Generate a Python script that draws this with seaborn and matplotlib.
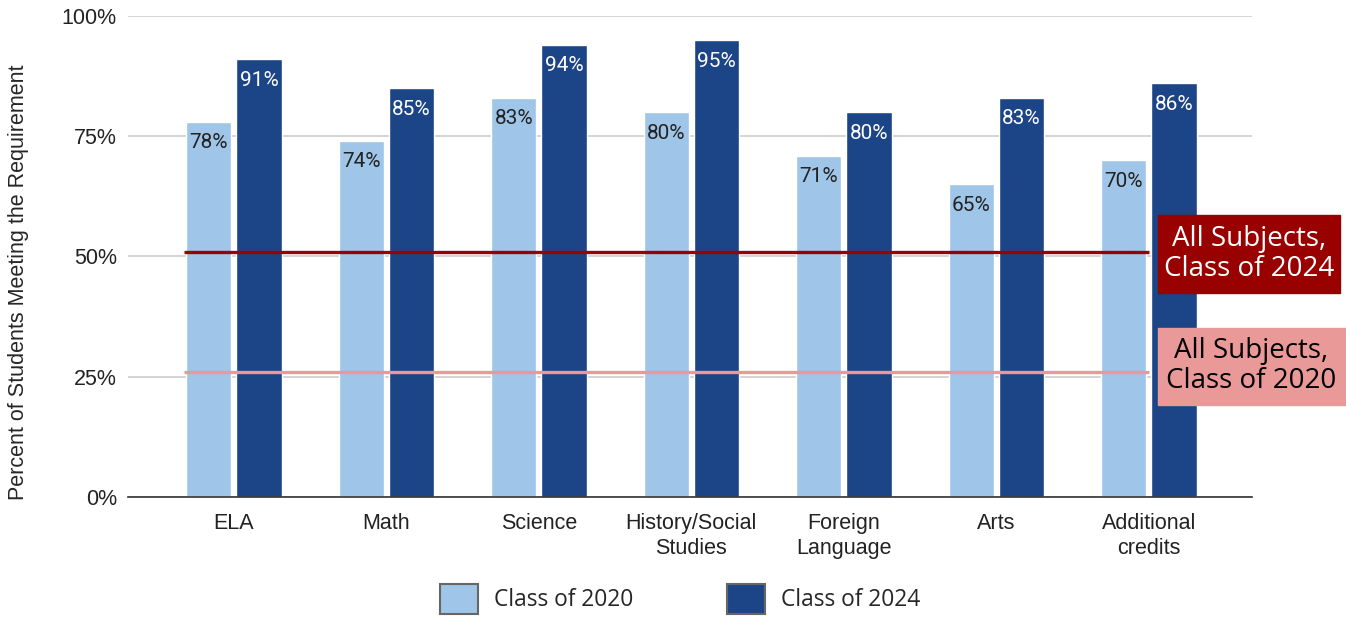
import matplotlib
matplotlib.use('Agg')
import seaborn as sns
import numpy as np
import pandas as pd
import matplotlib.pyplot as plt
from matplotlib.patches import Patch, Rectangle

subjects = ["ELA", "Math", "Science", "History/Social\nStudies", "Foreign\nLanguage", "Arts", "Additional\ncredits"]
class_2020 = [78, 74, 83, 80, 71, 65, 70]
class_2024 = [91, 85, 94, 95, 80, 83, 86]
cohorts = ["Class of 2020", "Class of 2024"]
all_subjects = {"Class of 2020": 26, "Class of 2024": 51}

light = "#9fc5e8"
dark = "#1c4587"
red_dark = "#990000"
red_light = "#ea9999"

df = pd.DataFrame({
    "subject": subjects * 2,
    "pct": class_2020 + class_2024,
    "cohort": [cohorts[0]] * len(subjects) + [cohorts[1]] * len(subjects),
})

sns.set_style("white")
plt.rcParams['font.family'] = ['Liberation Sans', 'DejaVu Sans']

fig = plt.figure(figsize=(13.46, 6.21), dpi=100)
ax = fig.add_axes([0.095, 0.2, 0.835, 0.774])

bar_w = 0.66
sns.barplot(data=df, x="subject", y="pct", hue="cohort", palette=[light, dark],
            width=bar_w, gap=0.1, saturation=1, legend=False, ax=ax, zorder=2)

# value labels inside the bars
for cont, txt_color in zip(ax.containers, ["#222222", "white"]):
    for p in cont:
        h = p.get_height()
        ax.annotate(f"{h:.0f}%", (p.get_x() + p.get_width() / 2, h),
                    xytext=(0, -15), textcoords="offset points",
                    ha="center", va="center", fontsize=15,
                    color=txt_color, family=["Roboto", "DejaVu Sans"], zorder=4)

# all-subject reference lines
ax.hlines(all_subjects["Class of 2024"], -bar_w / 2, len(subjects) - 1,
          color=red_dark, lw=2.4, zorder=3)
ax.hlines(all_subjects["Class of 2020"], -bar_w / 2, len(subjects) - 1,
          color=red_light, lw=2.4, zorder=3)

ax.set_xlim(-0.695, 6.675)
ax.set_ylim(0, 100)
ax.set_yticks([0, 25, 50, 75, 100])
ax.set_yticklabels([f"{v}%" for v in [0, 25, 50, 75, 100]])
ax.yaxis.grid(True, color="#cccccc", lw=1.2, zorder=0)
ax.set_axisbelow(True)
for s in ["top", "right", "left"]:
    ax.spines[s].set_visible(False)
ax.spines["bottom"].set_color("#333333")
ax.spines["bottom"].set_linewidth(1.2)
ax.tick_params(axis="both", length=0, labelsize=15.5, colors="#222222")
ax.tick_params(axis="y", pad=8)
ax.tick_params(axis="x", pad=12)
ax.set_xlabel("")
ax.set_ylabel("Percent of Students Meeting the Requirement", fontsize=15.5,
              va="center")
ax.yaxis.set_label_coords(-0.097, 0.447)

# boxes on the right
W, H = 1346, 621
box_font = ["Open Sans", "DejaVu Sans"]
fig.patches.append(Rectangle((1158 / W, 1 - 293 / H), 182 / W, 78 / H,
                             transform=fig.transFigure, color=red_dark, zorder=5))
fig.text(1249 / W, 1 - 254 / H, "All Subjects,\nClass of 2024", color="white",
         ha="center", va="center", fontsize=20, family=box_font, linespacing=1.05, zorder=6)
fig.patches.append(Rectangle((1158 / W, 1 - 405 / H), 188 / W, 77 / H,
                             transform=fig.transFigure, color=red_light, zorder=5))
fig.text(1251 / W, 1 - 366 / H, "All Subjects,\nClass of 2020", color="black",
         ha="center", va="center", fontsize=20, family=box_font, linespacing=1.05, zorder=6)

handles = [Patch(facecolor=light, edgecolor="#666666", lw=1.5),
           Patch(facecolor=dark, edgecolor="#666666", lw=1.5)]
fig.legend(handles, cohorts, loc="center", bbox_to_anchor=(680 / W, 1 - 599 / H),
           ncol=2, frameon=False, handlelength=1.67, handleheight=1.67,
           columnspacing=4.1, handletextpad=0.7,
           prop={"family": box_font, "size": 16.4})

fig.savefig("out.png", dpi=100)
